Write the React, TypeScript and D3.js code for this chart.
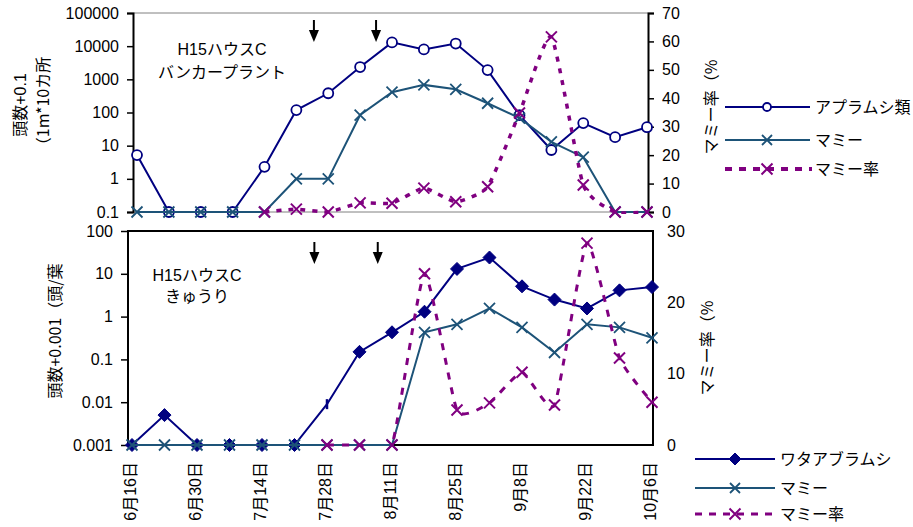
import React, { useEffect, useRef } from 'react'
import * as d3 from 'd3'

// x-axis labels (every other week), weeks 0..16
const dateLabels = ['6月16日', '6月30日', '7月14日', '7月28日', '8月11日', '8月25日', '9月8日', '9月22日', '10月6日']

// top panel: banker plant
const aphidTop = [5.2, 0.1, 0.1, 0.1, 2.3, 118, 380, 2350, 13000, 8000, 12000, 1900, 83, 7.4, 48, 18, 36]
const mummyTop = [0.1, 0.1, 0.1, 0.1, 0.1, 1, 1, 84, 410, 680, 500, 190, 68, 13, 4.5, 0.1, 0.1]
const rateTop = [null, null, null, null, 0, 1, 0, 3.2, 3.1, 8.4, 3.6, 8.9, 34.8, 61.6, 9.5, 0, 0]
const topLeftTicks = [0.1, 1, 10, 100, 1000, 10000, 100000]
const topRightTicks = [0, 10, 20, 30, 40, 50, 60, 70]

// bottom panel: cucumber
const wataBot = [0.001, 0.005, 0.001, 0.001, 0.001, 0.001, 0.009, 0.15, 0.43, 1.3, 13, 24, 5.1, 2.5, 1.55, 4.1, 4.9]
const mummyBot = [0.001, 0.001, 0.001, 0.001, 0.001, 0.001, 0.001, 0.001, 0.001, 0.43, 0.66, 1.55, 0.56, 0.145, 0.66, 0.56, 0.32]
const rateBot = [null, null, null, null, null, null, 0, 0, 0, 24, 4.9, 5.9, 10.2, 5.6, 28.3, 12.2, 6.0]
const botLeftTicks = [0.001, 0.01, 0.1, 1, 10, 100]
const botRightTicks = [0, 10, 20, 30]

// release timing arrows (between sampling weeks)
const arrowWeeks = [5.55, 7.5]

const NAVY = '#000080'
const TEAL = '#1d5378'
const PURPLE = '#800080'
const FONT = '"Liberation Sans", Arial, "Noto Sans CJK JP", sans-serif'
const CJK = '"Noto Sans CJK JP", "Liberation Sans", sans-serif'

export default function App() {
  const ref = useRef<SVGSVGElement>(null)

  useEffect(() => {
    const svg = d3.select(ref.current)
    svg.selectAll('*').remove()
    svg.style('font-family', FONT).style('font-size', '16px')

    const fmt = (d: number) => String(d)

    const cross = (g: any, x: number, y: number, r: number, color: string, w: number) => {
      g.append('path')
        .attr('d', `M${x - r},${y - r}L${x + r},${y + r}M${x - r},${y + r}L${x + r},${y - r}`)
        .attr('stroke', color).attr('stroke-width', w).attr('fill', 'none')
    }
    const diamond = (g: any, x: number, y: number, r: number) => {
      g.append('path')
        .attr('d', `M${x},${y - r}L${x + r},${y}L${x},${y + r}L${x - r},${y}Z`)
        .attr('fill', NAVY).attr('stroke', NAVY)
    }
    const arrow = (g: any, x: number, y0: number) => {
      g.append('line').attr('x1', x).attr('x2', x).attr('y1', y0).attr('y2', y0 + 12)
        .attr('stroke', 'black').attr('stroke-width', 2)
      g.append('path').attr('d', `M${x - 5},${y0 + 10}L${x + 5},${y0 + 10}L${x},${y0 + 22}Z`).attr('fill', 'black')
    }

    // ---------- top panel ----------
    const xT = d3.scaleLinear().domain([0, 16]).range([137, 647])
    const yTL = d3.scaleLog().domain([0.1, 100000]).range([212, 13])
    const yTR = d3.scaleLinear().domain([0, 70]).range([212, 13])

    const top = svg.append('g')
    top.append('line').attr('x1', 133).attr('x2', 648).attr('y1', 13).attr('y2', 13).attr('stroke', '#808080')
    top.append('line').attr('x1', 133).attr('x2', 648).attr('y1', 212).attr('y2', 212).attr('stroke', '#808080')

    const aTL = top.append('g').attr('transform', 'translate(133,0)')
      .call(d3.axisLeft(yTL).tickValues(topLeftTicks).tickFormat(fmt as any).tickSizeOuter(0).tickSize(6))
    const aTR = top.append('g').attr('transform', 'translate(648,0)')
      .call(d3.axisRight(yTR).tickValues(topRightTicks).tickFormat(fmt as any).tickSizeOuter(0).tickSize(6))
    ;[aTL, aTR].forEach(a => {
      a.select('.domain').attr('stroke', 'black').attr('stroke-width', 2)
      a.selectAll('line').attr('stroke', 'black').attr('stroke-width', 1.5)
      a.selectAll('text').style('font-size', '16px').style('font-family', FONT).attr('fill', 'black')
    })
    aTL.selectAll('text').attr('x', -14)
    aTR.selectAll('text').attr('x', 14)

    const clipT = svg.append('clipPath').attr('id', 'clipT')
    clipT.append('rect').attr('x', 133).attr('y', 11).attr('width', 516).attr('height', 203)

    const lineTL = d3.line<number>().x((_, i) => xT(i)).y(d => yTL(d))
    top.append('path').datum(aphidTop).attr('d', lineTL).attr('fill', 'none').attr('stroke', NAVY).attr('stroke-width', 2)
    aphidTop.forEach((d, i) => {
      top.append('circle').attr('cx', xT(i)).attr('cy', yTL(d)).attr('r', 5)
        .attr('fill', 'white').attr('stroke', NAVY).attr('stroke-width', 1.8)
    })
    top.append('path').datum(mummyTop).attr('d', lineTL).attr('fill', 'none').attr('stroke', TEAL).attr('stroke-width', 2)
    mummyTop.forEach((d, i) => cross(top, xT(i), yTL(d), 5.5, TEAL, 1.8))

    const rateLineT = d3.line<number | null>()
      .defined(d => d !== null)
      .x((_, i) => xT(i)).y(d => yTR(d as number))
      .curve(d3.curveCardinal.tension(0.5))
    top.append('path').datum(rateTop).attr('d', rateLineT).attr('clip-path', 'url(#clipT)')
      .attr('fill', 'none').attr('stroke', PURPLE).attr('stroke-width', 3.5).attr('stroke-dasharray', '5 7')
    rateTop.forEach((d, i) => { if (d !== null) cross(top, xT(i), yTR(d), 5.5, PURPLE, 2) })

    arrowWeeks.forEach(w => arrow(top, xT(w), 20))

    top.append('text').attr('x', 222).attr('y', 55).attr('text-anchor', 'middle').text('H15ハウスC')
    top.append('text').attr('x', 222).attr('y', 78).attr('text-anchor', 'middle').text('バンカープラント')

    top.append('text').attr('transform', 'translate(20,105) rotate(-90)').attr('text-anchor', 'middle')
      .attr('dy', '0.35em').text('頭数+0.1')
    top.append('text').attr('transform', 'translate(43,105) rotate(-90)').attr('text-anchor', 'middle')
      .attr('dy', '0.35em').style('font-family', CJK).text('（1m*10カ所')
    top.append('text').attr('transform', 'translate(711,107) rotate(-90)').attr('text-anchor', 'middle')
      .attr('dy', '0.35em').style('font-family', CJK).text('マミー率（%')

    // top legend
    const legT = svg.append('g')
    const legRowsT = [107, 140, 169]
    legT.append('line').attr('x1', 725).attr('x2', 810).attr('y1', legRowsT[0]).attr('y2', legRowsT[0]).attr('stroke', NAVY).attr('stroke-width', 2)
    legT.append('circle').attr('cx', 767).attr('cy', legRowsT[0]).attr('r', 4).attr('fill', 'white').attr('stroke', NAVY).attr('stroke-width', 1.8)
    legT.append('line').attr('x1', 725).attr('x2', 810).attr('y1', legRowsT[1]).attr('y2', legRowsT[1]).attr('stroke', TEAL).attr('stroke-width', 2)
    cross(legT, 767, legRowsT[1], 5, TEAL, 1.8)
    legT.append('line').attr('x1', 725).attr('x2', 812).attr('y1', legRowsT[2]).attr('y2', legRowsT[2]).attr('stroke', PURPLE).attr('stroke-width', 4).attr('stroke-dasharray', '7 7')
    cross(legT, 767, legRowsT[2], 5.5, PURPLE, 2)
    ;['アプラムシ類', 'マミー', 'マミー率'].forEach((t, i) => {
      legT.append('text').attr('x', 815).attr('y', legRowsT[i]).attr('dy', '0.35em').text(t)
    })

    // ---------- bottom panel ----------
    const xB = d3.scaleLinear().domain([0, 16]).range([132, 652])
    const yBL = d3.scaleLog().domain([0.001, 100]).range([445, 231])
    const yBR = d3.scaleLinear().domain([0, 30]).range([445, 231])

    const bot = svg.append('g')
    bot.append('rect').attr('x', 128).attr('y', 231).attr('width', 525).attr('height', 214)
      .attr('fill', 'none').attr('stroke', 'black').attr('stroke-width', 2)

    const aBL = bot.append('g').attr('transform', 'translate(128,0)')
      .call(d3.axisLeft(yBL).tickValues(botLeftTicks).tickFormat(fmt as any).tickSizeOuter(0).tickSize(7))
    const aBR = bot.append('g').attr('transform', 'translate(653,0)')
      .call(d3.axisRight(yBR).tickValues(botRightTicks).tickFormat(fmt as any).tickSizeOuter(0).tickSize(0))
    ;[aBL, aBR].forEach(a => {
      a.select('.domain').remove()
      a.selectAll('line').attr('stroke', 'black').attr('stroke-width', 1.5)
      a.selectAll('text').style('font-size', '16px').style('font-family', FONT).attr('fill', 'black')
    })
    aBL.selectAll('text').attr('x', -15)
    aBR.selectAll('text').attr('x', 14)

    const clipB = svg.append('clipPath').attr('id', 'clipB')
    clipB.append('rect').attr('x', 128).attr('y', 229).attr('width', 526).attr('height', 218)

    const lineBL = d3.line<number>().x((_, i) => xB(i)).y(d => yBL(d))
    bot.append('path').datum(wataBot).attr('d', lineBL).attr('fill', 'none').attr('stroke', NAVY).attr('stroke-width', 2)
    wataBot.forEach((d, i) => {
      if (i === 6) {
        bot.append('line').attr('x1', xB(i)).attr('x2', xB(i)).attr('y1', yBL(d) - 5).attr('y2', yBL(d) + 5)
          .attr('stroke', NAVY).attr('stroke-width', 2.5)
      } else diamond(bot, xB(i), yBL(d), 6.5)
    })
    bot.append('path').datum(mummyBot).attr('d', lineBL).attr('fill', 'none').attr('stroke', TEAL).attr('stroke-width', 2)
    mummyBot.forEach((d, i) => cross(bot, xB(i), yBL(d), 5.5, TEAL, 1.8))

    const rateLineB = d3.line<number | null>()
      .defined(d => d !== null)
      .x((_, i) => xB(i)).y(d => yBR(d as number))
      .curve(d3.curveCardinal.tension(0.5))
    bot.append('path').datum(rateBot).attr('d', rateLineB).attr('clip-path', 'url(#clipB)')
      .attr('fill', 'none').attr('stroke', PURPLE).attr('stroke-width', 3).attr('stroke-dasharray', '7 8')
    rateBot.forEach((d, i) => { if (d !== null) cross(bot, xB(i), yBR(d), 5.5, PURPLE, 2) })

    arrowWeeks.forEach(w => arrow(bot, xB(w) + 2, 242))

    bot.append('text').attr('x', 197).attr('y', 281).attr('text-anchor', 'middle').text('H15ハウスC')
    bot.append('text').attr('x', 197).attr('y', 302).attr('text-anchor', 'middle').text('きゅうり')

    bot.append('text').attr('transform', 'translate(55,331) rotate(-90)').attr('text-anchor', 'middle')
      .attr('dy', '0.35em').style('font-family', CJK).text('頭数+0.001（頭/葉')
    bot.append('text').attr('transform', 'translate(707,348) rotate(-90)').attr('text-anchor', 'middle')
      .attr('dy', '0.35em').style('font-family', CJK).text('マミー率（%')

    // x-axis date labels
    dateLabels.forEach((t, k) => {
      bot.append('text').attr('transform', `translate(${xB(k * 2) - 2},462) rotate(-90)`)
        .attr('text-anchor', 'end').attr('dy', '0.35em').text(t)
    })

    // bottom legend
    const legB = svg.append('g')
    const legRowsB = [459, 488, 514]
    legB.append('line').attr('x1', 695).attr('x2', 775).attr('y1', legRowsB[0]).attr('y2', legRowsB[0]).attr('stroke', NAVY).attr('stroke-width', 2)
    diamond(legB, 735, legRowsB[0], 6)
    legB.append('line').attr('x1', 695).attr('x2', 775).attr('y1', legRowsB[1]).attr('y2', legRowsB[1]).attr('stroke', TEAL).attr('stroke-width', 2)
    cross(legB, 735, legRowsB[1], 5, TEAL, 1.8)
    legB.append('line').attr('x1', 695).attr('x2', 777).attr('y1', legRowsB[2]).attr('y2', legRowsB[2]).attr('stroke', PURPLE).attr('stroke-width', 3).attr('stroke-dasharray', '7 7')
    cross(legB, 735, legRowsB[2], 5.5, PURPLE, 2)
    ;['ワタアブラムシ', 'マミー', 'マミー率'].forEach((t, i) => {
      legB.append('text').attr('x', 780).attr('y', legRowsB[i]).attr('dy', '0.35em').text(t)
    })
  }, [])

  return (
    <svg ref={ref} width={913} height={527}
      style={{ position: 'absolute', left: 0, top: 0, background: 'white' }} />
  )
}
